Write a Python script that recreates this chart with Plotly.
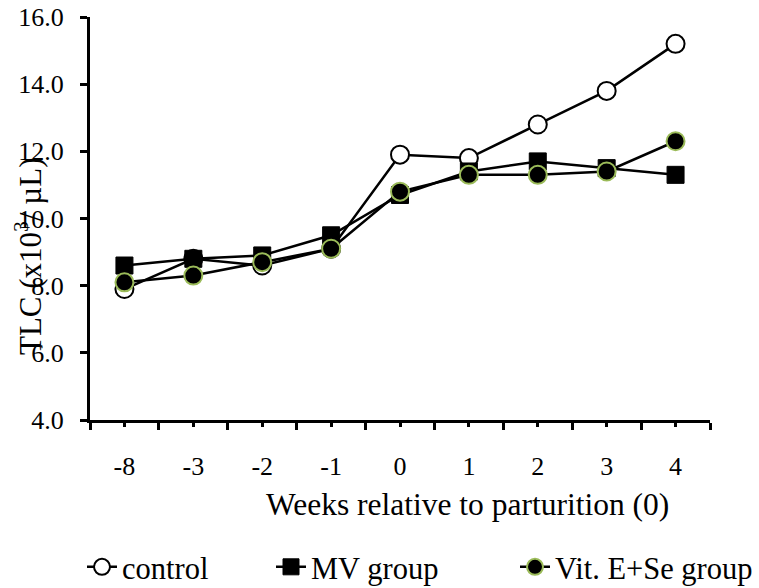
import plotly.graph_objects as go

# Weeks relative to parturition (category labels)
weeks = ["-8", "-3", "-2", "-1", "0", "1", "2", "3", "4"]

# Total leukocyte count (x10^3 / µL) per group
control = [7.9, 8.8, 8.6, 9.1, 11.9, 11.8, 12.8, 13.8, 15.2]
mv_group = [8.6, 8.8, 8.9, 9.5, 10.7, 11.4, 11.7, 11.5, 11.3]
vit_e_se = [8.1, 8.3, 8.7, 9.1, 10.8, 11.3, 11.3, 11.4, 12.3]

y_ticks = [4.0, 6.0, 8.0, 10.0, 12.0, 14.0, 16.0]

FONT = "Times New Roman, Liberation Serif, serif"
W, H = 759, 588
ML, MR, MT, MB = 90, 49, 17, 168
PW, PH = W - ML - MR, H - MT - MB
pos = list(range(len(weeks)))
bounds = [p - 0.5 for p in pos] + [pos[-1] + 0.5]

fig = go.Figure()

fig.add_trace(go.Scatter(
    x=pos, y=control, name="control", mode="lines+markers",
    line=dict(color="black", width=2.5),
    marker=dict(symbol="circle", size=18, color="white",
                line=dict(color="black", width=2)),
    legend="legend",
))
fig.add_trace(go.Scatter(
    x=pos, y=mv_group, name="MV group", mode="lines+markers",
    line=dict(color="black", width=2.5),
    marker=dict(symbol="square", size=17, color="black",
                line=dict(color="black", width=1)),
    legend="legend2",
))
fig.add_trace(go.Scatter(
    x=pos, y=vit_e_se, name="Vit. E+Se group", mode="lines+markers",
    line=dict(color="black", width=2.5),
    marker=dict(symbol="circle", size=18, color="black",
                line=dict(color="#9BBB59", width=2)),
    legend="legend3",
))


def legend_box(x_px, anchor="left"):
    # one legend entry: x in plot-area units, y measured on the whole page
    return dict(
        xref="paper", yref="container",
        x=(x_px - ML) / PW, xanchor=anchor,
        y=(H - 567) / H, yanchor="middle",
        font=dict(family=FONT, size=30.5, color="black"),
        bgcolor="rgba(0,0,0,0)", borderwidth=0,
    )


fig.update_layout(
    width=W, height=H,
    template="none",
    margin=dict(l=ML, r=MR, t=MT, b=MB),
    paper_bgcolor="white", plot_bgcolor="white",
    font=dict(family=FONT, color="black", size=26),
    showlegend=True,
    legend=legend_box(82),
    legend2=legend_box(271),
    legend3=legend_box(758, "right"),
    xaxis=dict(
        range=[-0.5, len(weeks) - 0.5], automargin=False,
        tickmode="array", tickvals=pos, ticktext=weeks,
        ticks="outside", ticklen=4, tickwidth=3, tickcolor="black",
        ticklabelstandoff=17,
        showline=True, linecolor="black", linewidth=3,
        showgrid=False, zeroline=False,
        tickfont=dict(family=FONT, size=26, color="black"),
        minor=dict(tickmode="array", tickvals=bounds, ticks="outside",
                   ticklen=7, tickwidth=3, tickcolor="black", showgrid=False),
    ),
    yaxis=dict(
        range=[4, 16], automargin=False,
        tickmode="array", tickvals=y_ticks,
        ticktext=[f"{v:.1f}" for v in y_ticks],
        ticks="outside", ticklen=7, tickwidth=3, tickcolor="black",
        ticklabelstandoff=11,
        showline=True, linecolor="black", linewidth=3,
        showgrid=False, zeroline=False,
        tickfont=dict(family=FONT, size=26, color="black"),
    ),
    annotations=[
        dict(text="TLC (x10<sup>3</sup>/ µL)", xref="paper", yref="paper",
             x=(28 - ML) / PW, y=(MT + PH - 257) / PH,
             xanchor="center", yanchor="middle",
             textangle=-90, showarrow=False,
             font=dict(family=FONT, size=31, color="black")),
        dict(text="Weeks relative to parturition (0)", xref="paper", yref="paper",
             x=(467 - ML) / PW, y=-(504 - (MT + PH)) / PH,
             xanchor="center", yanchor="middle", showarrow=False,
             font=dict(family=FONT, size=31.5, color="black")),
    ],
)

fig.write_html("out.html")
